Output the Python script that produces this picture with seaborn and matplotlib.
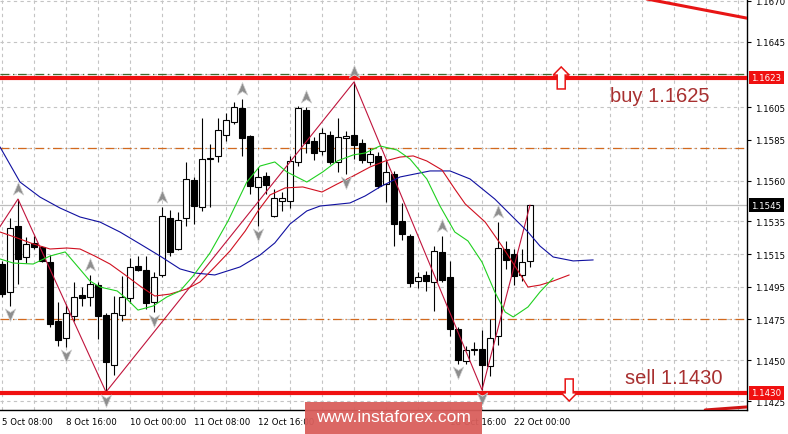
import numpy as np
import pandas as pd
import seaborn as sns
import matplotlib.pyplot as plt
from matplotlib.path import Path
from matplotlib.patches import Polygon, Rectangle

# EURUSD H4 candles (bar 0 = 5 Oct 08:00)
opens = [1.15089, 1.14918, 1.15322, 1.15132, 1.15218, 1.15193, 1.15101, 1.14740, 1.14636, 1.14771,
         1.14899, 1.14887, 1.14961, 1.14777, 1.14471, 1.14777, 1.14881, 1.15077, 1.15052, 1.14856,
         1.15022, 1.15371, 1.15181, 1.15371, 1.15604, 1.15438, 1.15732, 1.15751, 1.15879, 1.15959,
         1.16045, 1.15873, 1.15561, 1.15628, 1.15383, 1.15475, 1.15475, 1.15714, 1.16032, 1.15842,
         1.15781, 1.15879, 1.15714, 1.15861, 1.15879, 1.15830, 1.15714, 1.15751, 1.15579, 1.15640,
         1.15352, 1.15261, 1.14985, 1.15022, 1.14979, 1.15163, 1.15010, 1.14691, 1.14495, 1.14562,
         1.14569, 1.14464, 1.14648, 1.15181, 1.15150, 1.15022, 1.15108]
highs = [1.15108, 1.15371, 1.15487, 1.15254, 1.15261, 1.15199, 1.15144, 1.14856, 1.14844, 1.14979,
         1.14948, 1.15022, 1.14979, 1.14789, 1.14893, 1.15016, 1.15126, 1.15138, 1.15138, 1.15040,
         1.15438, 1.15420, 1.15408, 1.15714, 1.15622, 1.15983, 1.15824, 1.15983, 1.16014, 1.16081,
         1.16100, 1.15879, 1.15683, 1.15653, 1.15548, 1.15530, 1.15751, 1.16057, 1.16051, 1.15867,
         1.15922, 1.15904, 1.15983, 1.15904, 1.16204, 1.15855, 1.15800, 1.15775, 1.15732, 1.15659,
         1.15463, 1.15273, 1.15040, 1.15046, 1.15199, 1.15261, 1.15108, 1.14703, 1.14587, 1.14611,
         1.14685, 1.14752, 1.15346, 1.15230, 1.15181, 1.15181, 1.15450]
lows = [1.14887, 1.14832, 1.14967, 1.15095, 1.15181, 1.15101, 1.14703, 1.14587, 1.14581, 1.14740,
        1.14832, 1.14832, 1.14630, 1.14305, 1.14409, 1.14740, 1.14850, 1.15046, 1.14814, 1.14795,
        1.15010, 1.15138, 1.15175, 1.15322, 1.15334, 1.15414, 1.15438, 1.15714, 1.15842, 1.15947,
        1.15751, 1.15518, 1.15322, 1.15518, 1.15377, 1.15414, 1.15432, 1.15689, 1.15769, 1.15726,
        1.15757, 1.15702, 1.15653, 1.15640, 1.15732, 1.15708, 1.15695, 1.15555, 1.15469, 1.15199,
        1.15236, 1.14948, 1.14942, 1.14924, 1.14801, 1.14979, 1.14648, 1.14477, 1.14477, 1.14532,
        1.14318, 1.14403, 1.14593, 1.15059, 1.14961, 1.14985, 1.15071]
closes = [1.14905, 1.15310, 1.15120, 1.15212, 1.15193, 1.15108, 1.14722, 1.14624, 1.14789, 1.14887,
          1.14881, 1.14967, 1.14771, 1.14489, 1.14789, 1.14887, 1.15071, 1.15052, 1.14850, 1.15010,
          1.15383, 1.15163, 1.15359, 1.15610, 1.15444, 1.15732, 1.15738, 1.15910, 1.15971, 1.16051,
          1.15861, 1.15567, 1.15622, 1.15573, 1.15493, 1.15493, 1.15720, 1.16045, 1.15830, 1.15769,
          1.15891, 1.15714, 1.15867, 1.15873, 1.15818, 1.15726, 1.15763, 1.15567, 1.15653, 1.15334,
          1.15273, 1.14973, 1.15010, 1.14985, 1.15169, 1.14991, 1.14691, 1.14501, 1.14562, 1.14569,
          1.14471, 1.14636, 1.15187, 1.15114, 1.15016, 1.15101, 1.15450]

# alligator lines (bar position, price)
jaw_x = [-0.25, 2.25, 4.75, 7.25, 9.75, 12.25, 14.75, 17.25, 19.75, 22.25, 24.1, 26.6, 29.75, 32.25,
         34.1, 36, 38.1, 39.75, 43.5, 45.4, 47.25, 49.75, 53.5, 56, 58.5, 61.6, 64.1, 65.75, 67.25,
         68.9, 71.4, 73.9]
jaw_y = [1.15806, 1.15591, 1.15499, 1.15432, 1.15377, 1.15346, 1.15285, 1.15212, 1.15138, 1.15059,
         1.15034, 1.15022, 1.15071, 1.15144, 1.15218, 1.15334, 1.15414, 1.15444, 1.15463, 1.15506,
         1.15561, 1.15622, 1.15659, 1.15659, 1.15610, 1.15487, 1.15365, 1.15285, 1.15199, 1.15132,
         1.15108, 1.15114]
teeth_x = [-0.25, 1.6, 3.9, 6, 8.1, 9.75, 11.6, 13.5, 15.4, 17.25, 19.1, 21, 23.1, 24.75, 26.6, 28.5,
           30.4, 32, 33.5, 35.4, 37.6, 40, 41.9, 43.9, 46, 47.9, 49.75, 51.4, 53.1, 55, 56.6, 57.9,
           60.4, 62.5, 64.75, 65.75, 67.25, 68.9, 70.9]
teeth_y = [1.15285, 1.15254, 1.15212, 1.15181, 1.15187, 1.15181, 1.15138, 1.15089, 1.15022, 1.14954,
           1.14893, 1.14905, 1.14936, 1.14979, 1.15071, 1.15169, 1.15291, 1.15414, 1.15512, 1.15555,
           1.15561, 1.15530, 1.15579, 1.15628, 1.15683, 1.15720, 1.15744, 1.15751, 1.15720, 1.15665,
           1.15548, 1.15457, 1.15346, 1.15199, 1.15028, 1.14948, 1.14960, 1.14985, 1.15022]
lips_x = [-0.25, 1.4, 3.9, 6, 7.9, 9.4, 11, 12.25, 14.4, 15.6, 17, 18.9, 20.6, 22.25, 23.9, 26, 28.25,
          30.6, 32.25, 34.1, 35.6, 38.1, 40.1, 41.9, 43.9, 45.4, 47.25, 49.4, 51, 53.1, 54.75, 56.6,
          58.25, 60, 61.6, 62.9, 63.9, 65.75, 67.25, 68.9]
lips_y = [1.15120, 1.15095, 1.15089, 1.15138, 1.15163, 1.15077, 1.14985, 1.14948, 1.14924, 1.14875,
          1.14807, 1.14832, 1.14887, 1.14924, 1.15016, 1.15157, 1.15352, 1.15591, 1.15689, 1.15714,
          1.15653, 1.15591, 1.15653, 1.15720, 1.15757, 1.15769, 1.15812, 1.15787, 1.15732, 1.15610,
          1.15444, 1.15285, 1.15230, 1.15101, 1.14918, 1.14795, 1.14765, 1.14826, 1.14918, 1.15003]

# zigzag pivots
zz_x = [-2, 2, 13, 44, 60, 66]
zz_y = [1.15187, 1.15487, 1.14305, 1.16204, 1.14318, 1.15450]

# fractals (bars)
fr_up = [2, 11, 20, 30, 38, 44, 55, 62]
fr_dn = [1, 8, 13, 19, 32, 43, 57, 60]

# horizontal levels
buy_line, sell_line = 1.1623, 1.1430
green_level = 1.16253
orange_levels = [1.1580, 1.1475]
bid = 1.1545
# trend lines (bar, price)
trend_top = ([80.6, 93.2], [1.16712, 1.16594])
trend_bot = ([87.9, 93.2], [1.14195, 1.14214])

# axis labels (the ones under the watermark are not visible)
time_ticks = [0, 8, 16, 24, 32, 40, 48, 56, 64]
time_labels = ['5 Oct 08:00', '8 Oct 16:00', '10 Oct 00:00', '11 Oct 08:00', '12 Oct 16:00',
               '', '', '18 Oct 16:00', '22 Oct 00:00']
price_ticks = [1.1670, 1.1645, 1.1605, 1.1585, 1.1560, 1.1535, 1.1515, 1.1495, 1.1475, 1.1450, 1.1425]
grid_prices = [1.1670, 1.1645, 1.1625, 1.1605, 1.1580, 1.1560, 1.1535, 1.1515, 1.1495, 1.1475, 1.1450, 1.1425]

sns.set_style('white')
plt.rcParams['font.family'] = ['DejaVu Sans']

fig = plt.figure(figsize=(7.88, 4.35), dpi=100)
ax = fig.add_axes([0, 24 / 435, 747 / 788, 411 / 435])
ax.set_xlim(-0.25, 93.125)
ax.set_ylim(1.14195, 1.16712)

# grid
ax.set_xticks(time_ticks)
ax.set_xticks(np.arange(0, 94, 4), minor=True)
ax.grid(which='both', axis='x', color='#c4c4c4', lw=0.8, ls=(0, (3, 3)), zorder=0)
for g in grid_prices:
    ax.axhline(g, color='#c4c4c4', lw=0.8, ls=(0, (3, 3)), zorder=0)

# candles
o = np.array(opens); h = np.array(highs); l = np.array(lows); c = np.array(closes)
idx = np.arange(len(o))
up = c >= o
ax.vlines(idx, l, h, color='black', lw=0.8, zorder=3)
ax.bar(idx, np.maximum(np.abs(c - o), 0.00001), bottom=np.minimum(o, c), width=0.64,
       color=np.where(up, 'white', 'black'), edgecolor='black', linewidth=0.8, zorder=3.5)

# levels
ax.axhline(bid, color='#bdbdbd', lw=0.9, zorder=1)
for lv in orange_levels:
    ax.axhline(lv, color='#d2691e', lw=0.9, ls=(0, (7, 3, 1, 3)), zorder=1.5)
ax.axhline(green_level, color='#3d6b2f', lw=0.9, ls=(0, (7, 3, 1, 3)), zorder=1.5)
ax.axhline(buy_line, color='#f01010', lw=3, zorder=5)
ax.axhline(sell_line, color='#f01010', lw=3, zorder=5)
ax.plot(trend_top[0], trend_top[1], color='#e81515', lw=2.2, zorder=5)
ax.plot(trend_bot[0], trend_bot[1], color='#d01515', lw=2.2, zorder=5)

# indicators
sns.lineplot(x=zz_x, y=zz_y, color='#c0143c', lw=0.8, ax=ax, sort=False, estimator=None, zorder=4)
sns.lineplot(x=jaw_x, y=jaw_y, color='#1010a0', lw=0.8, ax=ax, sort=False, estimator=None, zorder=4)
sns.lineplot(x=teeth_x, y=teeth_y, color='#d01020', lw=0.8, ax=ax, sort=False, estimator=None, zorder=4)
sns.lineplot(x=lips_x, y=lips_y, color='#20d020', lw=0.8, ax=ax, sort=False, estimator=None, zorder=4)

# fractal arrowheads
up_mark = Path([(0, 1), (0.75, -0.8), (0, -0.3), (-0.75, -0.8), (0, 1)],
               [Path.MOVETO, Path.LINETO, Path.LINETO, Path.LINETO, Path.CLOSEPOLY])
dn_mark = Path([(0, -1), (0.75, 0.8), (0, 0.3), (-0.75, 0.8), (0, -1)],
               [Path.MOVETO, Path.LINETO, Path.LINETO, Path.LINETO, Path.CLOSEPOLY])
ax.plot(fr_up, h[fr_up] + 0.00061, ls='none', marker=up_mark, ms=10, mfc='#8e8e8e',
        mec='#d0d0d0', mew=0.5, zorder=6)
ax.plot(fr_dn, l[fr_dn] - 0.00048, ls='none', marker=dn_mark, ms=10, mfc='#8e8e8e',
        mec='#d0d0d0', mew=0.5, zorder=6)


def big_arrow(xc, tip, base, direction):
    hh = 0.00050 * direction
    pts = [(xc, tip), (xc + 1.0, tip - hh), (xc + 0.5, tip - hh), (xc + 0.5, base),
           (xc - 0.5, base), (xc - 0.5, tip - hh), (xc - 1.0, tip - hh)]
    ax.add_patch(Polygon(pts, closed=True, fc='white', ec='#e81515', lw=1.1, zorder=7))


big_arrow(69.9, 1.16296, 1.16161, 1)
big_arrow(70.9, 1.14250, 1.14385, -1)

ax.text(76.0, 1.16118, 'buy 1.1625', color='#a83030', fontsize=14.5, family='Liberation Sans',
        ha='left', va='center', zorder=8)
ax.text(77.9, 1.14397, 'sell 1.1430', color='#a83030', fontsize=14.5, family='Liberation Sans',
        ha='left', va='center', zorder=8)

# axes styling
for s in ['top', 'left']:
    ax.spines[s].set_visible(False)
for s in ['right', 'bottom']:
    ax.spines[s].set_color('black')
    ax.spines[s].set_linewidth(1)
ax.yaxis.tick_right()
ax.set_yticks(price_ticks)
ax.set_yticklabels(['%.4f' % p for p in price_ticks])
ax.set_xticklabels(time_labels)
for lbl in ax.get_xticklabels():
    lbl.set_ha('left')
ax.tick_params(axis='x', which='major', length=3, width=0.8, pad=2, labelsize=6.2, colors='black')
ax.tick_params(axis='x', which='minor', length=0)
ax.tick_params(axis='y', length=3, width=0.8, pad=3, labelsize=6.2, colors='black')

ytr = ax.get_yaxis_transform()
for val, bg in [(buy_line, '#f01010'), (bid, 'black'), (sell_line, '#f01010')]:
    ax.text(1.006, val, '%.4f' % val, transform=ytr, color='white', fontsize=6.2, ha='left',
            va='center', zorder=9, clip_on=False,
            bbox=dict(boxstyle='square,pad=0.25', fc=bg, ec='none'))

# watermark
fig.patches.append(Rectangle((305 / 788, 0), 177 / 788, 32 / 435, transform=fig.transFigure,
                             fc='#d95f5c', ec='none', alpha=0.95, zorder=10))
fig.text(393 / 788, 17 / 435, 'www.instaforex.com', color='white', fontsize=12.5,
         family='Liberation Sans', ha='center', va='center', zorder=11)

fig.savefig('out.png', dpi=100)
